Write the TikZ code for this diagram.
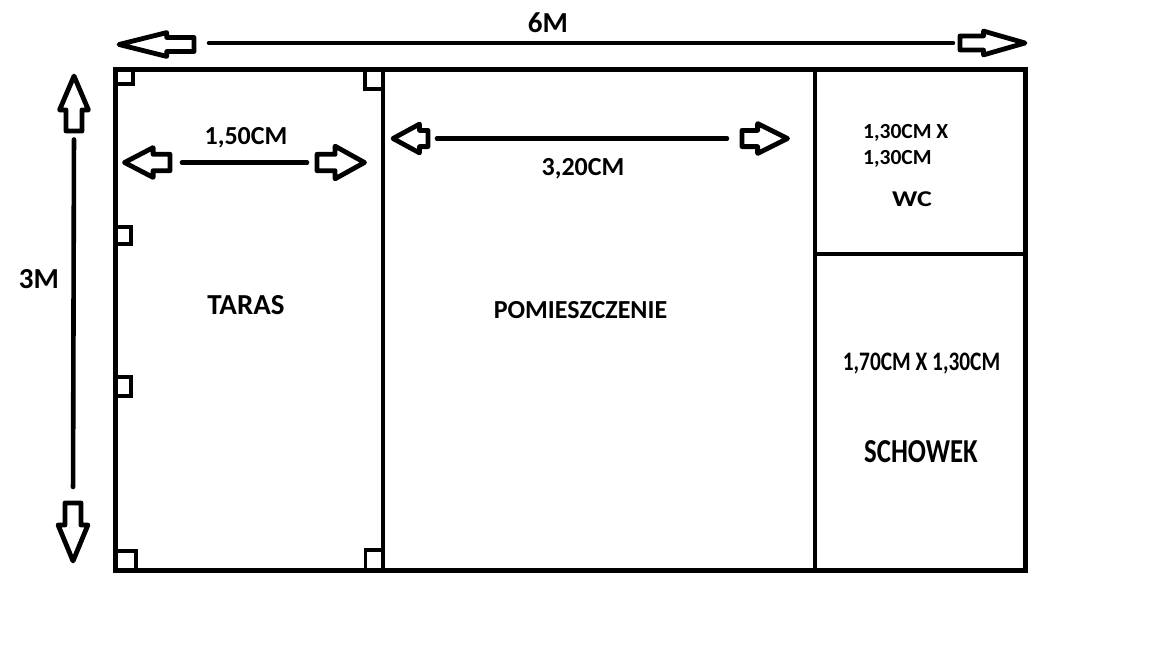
\documentclass[tikz,border=0pt]{standalone}
\usepackage{fontspec}
\setmainfont{Carlito}
\usetikzlibrary{shapes.arrows, positioning}
\tikzset{
  wall/.style={line width=5pt, line join=miter},
  thinwall/.style={line width=4pt},
  post/.style={line width=3.8pt},
  dimline/.style={line width=4.6pt, line cap=round},
  blockarrow/.style={draw, single arrow, anchor=tip, line width=4.8pt, line join=round, single arrow head indent=0pt, outer sep=0pt, inner sep=#1},
  label/.style={font=\bfseries\fontsize{26}{30}\selectfont, inner sep=0pt, text=black},
  biglabel/.style={font=\bfseries\fontsize{29}{33}\selectfont, inner sep=0pt, text=black},
  smalllabel/.style={font=\bfseries\fontsize{21.5}{25}\selectfont, inner sep=0pt, text=black}
}

\begin{document}
\begin{tikzpicture}[x=1pt, y=-1pt]
  \useasboundingbox (0,0) rectangle (1152,648);

  % rooms
  \draw[wall] (115,69.5) rectangle (1025,570);
  \coordinate (wallA) at (382.5,69.5);
  \coordinate (wallB) at (382.5,570);
  \coordinate (wallC) at (815,69.5);
  \coordinate (wallD) at (815,570);
  \coordinate (wcfloor) at (815,254);
  \coordinate (wcright) at (1025,254);
  \draw[thinwall] (wallA) -- (wallB);
  \draw[thinwall] (wallC) -- (wallD);
  \draw[thinwall] (wcfloor) -- (wcright);

  % posts of the terrace
  \draw[post] (115,84) -| (133,69.5);
  \draw[post] (365,69.5) |- (382.5,89);
  \draw[post] (115,227) -| (131,244) -- (115,244);
  \draw[post] (115,377) -| (131,396) -- (115,396);
  \draw[post] (115,551) -| (136,570);
  \draw[post] (365.5,570) |- (382.5,550);

  % overall width
  \node[blockarrow=4.6pt, minimum height=75pt, minimum width=19pt, single arrow head extend=4.9pt, single arrow tip angle=28, rotate=180] (widthL) at (119,44.5) {};
  \node[blockarrow=4.6pt, minimum height=65pt, minimum width=19pt, single arrow head extend=4.9pt, single arrow tip angle=32, shift={(0,0)}] (widthR) at (1025,43) {};
  \draw[dimline] ([xshift=15pt]widthL.tail |- 0,43) -- ([xshift=-7pt]widthR.tail |- 0,43);
  \node[biglabel] (sixm) at (548,23) {6M};

  % overall depth
  \node[blockarrow=5.6pt, minimum height=55pt, minimum width=24pt, single arrow head extend=6.4pt, single arrow tip angle=46, rotate=90] (depthT) at (74,76) {};
  \node[blockarrow=5.6pt, minimum height=58pt, minimum width=25pt, single arrow head extend=6.9pt, single arrow tip angle=45, rotate=-90] (depthB) at (73,561) {};
  \draw[dimline, shorten <=8.5pt, shorten >=16pt] (depthT.tail) -- (depthB.tail);
  \node[biglabel] (threem) at (39,279) {3M};

  % terrace width
  \node[blockarrow=5.8pt, minimum height=45.5pt, minimum width=25pt, single arrow head extend=6.7pt, single arrow tip angle=55, rotate=180] (terraceL) at (124.5,162.5) {};
  \node[blockarrow=5.8pt, minimum height=47.5pt, minimum width=28pt, single arrow head extend=8.1pt, single arrow tip angle=58] (terraceR) at (364.5,162.5) {};
  \draw[dimline, shorten <=12pt, shorten >=10pt] (terraceL.tail) -- (terraceR.tail);
  \node[label] (terracewidth) at (246,137.5) {1,50CM};

  % room width
  \node[blockarrow=5.7pt, minimum height=35pt, minimum width=24pt, single arrow head extend=6.3pt, single arrow tip angle=57, rotate=180] (roomL) at (393,138.5) {};
  \node[blockarrow=5.7pt, minimum height=45.5pt, minimum width=25pt, single arrow head extend=6.8pt, single arrow tip angle=53] (roomR) at (787.5,138.5) {};
  \draw[dimline, shorten <=9pt, shorten >=15pt] (roomL.tail) -- (roomR.tail);
  \node[label] (roomwidth) at (583,168.5) {3,20CM};

  % room names
  \node[biglabel] (terrace) at (246,305) {TARAS};
  \node[label] (room) at (580.5,310) {POMIESZCZENIE};
  \node[smalllabel, anchor=west] (wcsizeA) at (863,132.5) {1,30CM X};
  \node[smalllabel, anchor=west] (wcsizeB) at (863,158.5) {1,30CM};
  \node[smalllabel, xscale=1.3, yscale=1.05, transform shape] (wc) at (912,199.5) {WC};
  \node[label, font=\bfseries\fontsize{26.7}{31}\selectfont, xscale=.8, transform shape] (storesize) at (921.5,364) {1,70CM X 1,30CM};
  \node[label, font=\bfseries\fontsize{33.5}{37}\selectfont, xscale=.8, transform shape] (store) at (921,452) {SCHOWEK};
\end{tikzpicture}
\end{document}
